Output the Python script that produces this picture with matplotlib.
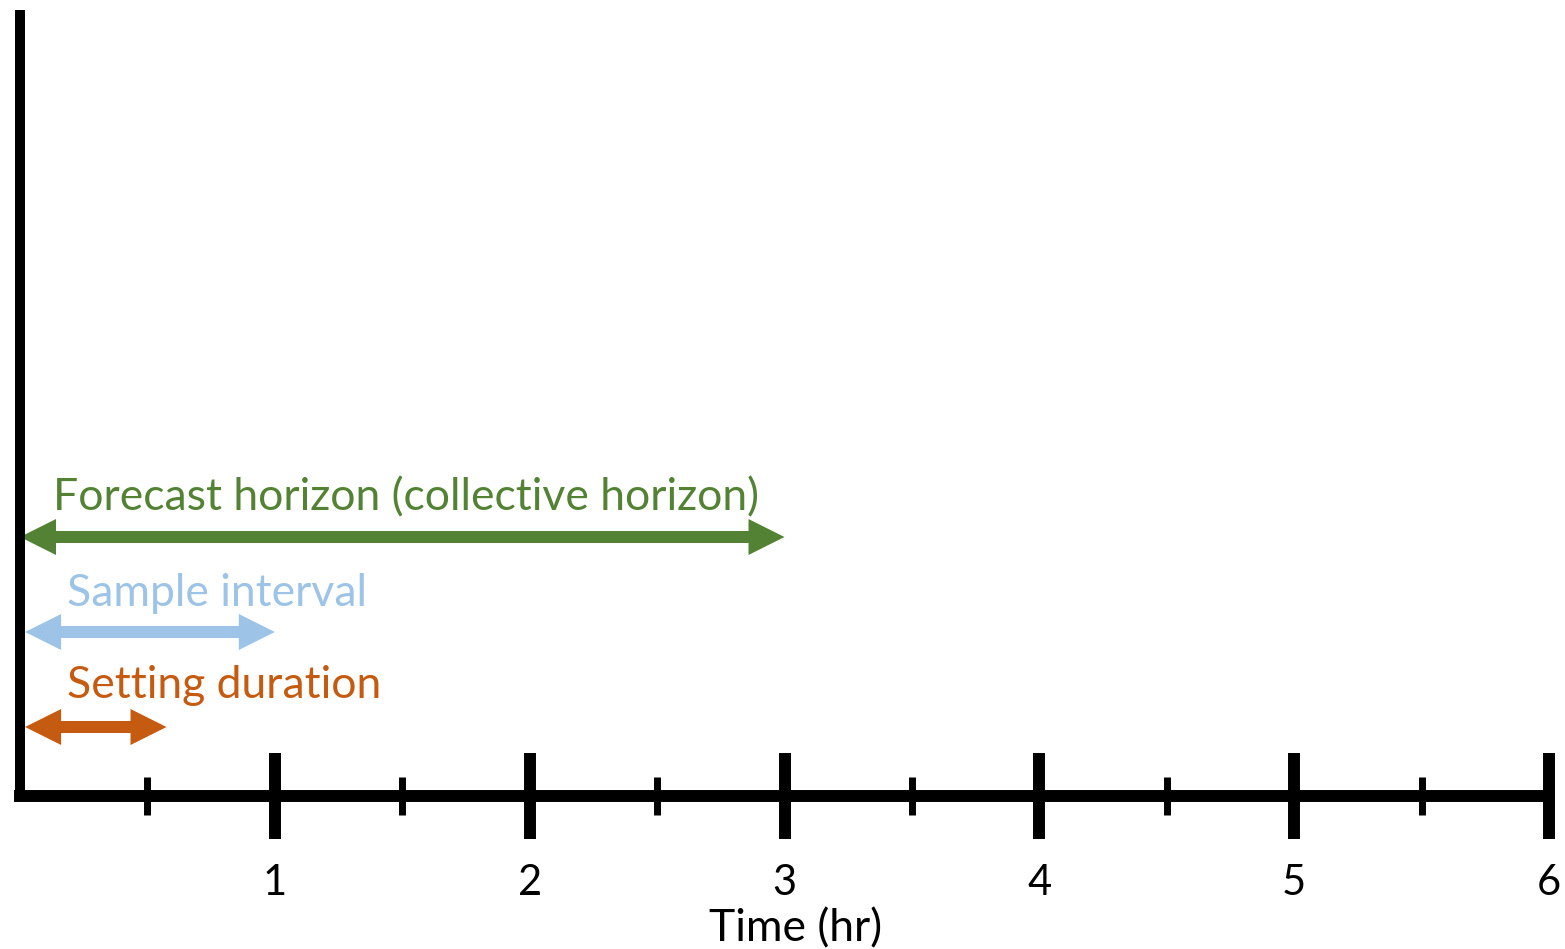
import matplotlib
matplotlib.use("Agg")
import matplotlib.pyplot as plt
from matplotlib.patches import Polygon

# Data: spans in hours, label text and colour for each double arrow
span_labels = ["Forecast horizon (collective horizon)", "Sample interval", "Setting duration"]
span_ends = [3.0, 1.0, 0.575]
span_starts = [0.0, 0.02, 0.02]
span_colors = ["#548235", "#9DC3E6", "#C55A11"]

major_ticks = [1, 2, 3, 4, 5, 6]
minor_ticks = [0.5, 1.5, 2.5, 3.5, 4.5, 5.5]
tick_labels = ["1", "2", "3", "4", "5", "6"]

# layout (vertical positions are in pixels above the time axis)
arrow_y = [259, 164, 69]
label_y = [298, 203, 111]
label_x = [0.13, 0.185, 0.185]

W, H = 1565, 949
fig = plt.figure(figsize=(W / 100, H / 100), dpi=100)
ax = fig.add_axes([20 / W, (H - 796) / H, 1529 / W, 786 / H])
ax.set_xlim(0, 6)
ax.set_ylim(0, 786)
px = 6 / 1529  # hours per pixel

for s in ["top", "right"]:
    ax.spines[s].set_visible(False)
ax.spines["left"].set_linewidth(7.2)
ax.spines["bottom"].set_linewidth(8.6)
ax.spines["left"].set_capstyle("projecting")
ax.spines["bottom"].set_capstyle("projecting")
ax.spines["bottom"].set_bounds(0, 6.0)
ax.spines["left"].set_bounds(0, 781)

ax.set_yticks([])
ax.set_xticks(major_ticks)
ax.set_xticklabels(tick_labels)
ax.set_xticks(minor_ticks, minor=True)
ax.tick_params(axis="x", which="major", direction="inout", length=62, width=8.6,
               pad=18, labelsize=30)
ax.tick_params(axis="x", which="minor", direction="inout", length=27, width=5)
for lab in ax.get_xticklabels():
    lab.set_fontfamily("Lato")
ax.set_xlabel("Time (hr)", fontsize=32, family="Lato")
ax.xaxis.set_label_coords(0.5075, -0.143)


def double_arrow(x0, x1, y, color, head_len=36, head_w=36, shaft=12):
    hl = head_len * px
    pts = [
        (x0, y),
        (x0 + hl, y + head_w / 2),
        (x0 + hl, y + shaft / 2),
        (x1 - hl, y + shaft / 2),
        (x1 - hl, y + head_w / 2),
        (x1, y),
        (x1 - hl, y - head_w / 2),
        (x1 - hl, y - shaft / 2),
        (x0 + hl, y - shaft / 2),
        (x0 + hl, y - head_w / 2),
    ]
    ax.add_patch(Polygon(pts, closed=True, facecolor=color, edgecolor="none",
                         clip_on=False))


for lab, x0, x1, c, ya, yl, xl in zip(span_labels, span_starts, span_ends,
                                      span_colors, arrow_y, label_y, label_x):
    double_arrow(x0, x1, ya, c)
    ax.text(xl, yl, lab, color=c, fontsize=32, family="Lato", va="center", ha="left")

fig.savefig("out.png", dpi=100)
